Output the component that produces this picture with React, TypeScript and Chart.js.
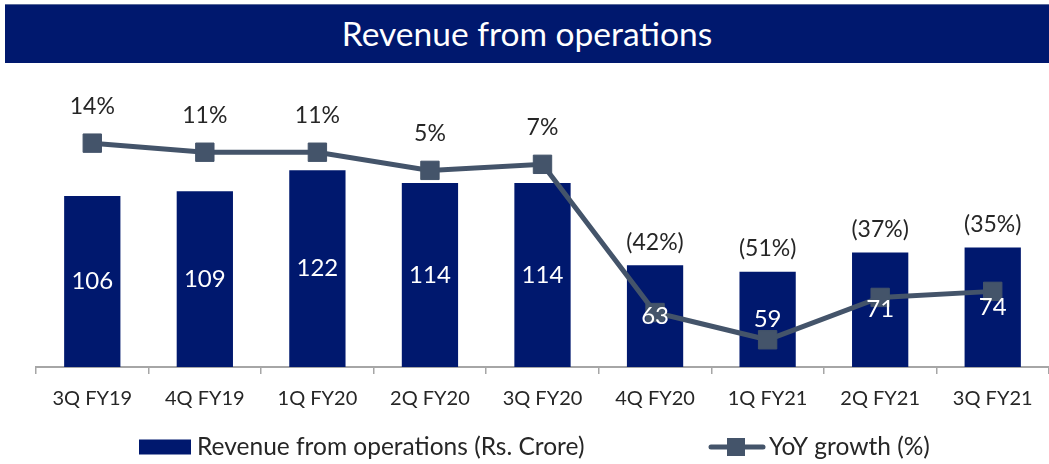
import React, { useEffect, useRef } from "react";
import { Chart, registerables } from "chart.js";

Chart.register(...registerables);

const categories: string[] = [
  "3Q FY19", "4Q FY19", "1Q FY20", "2Q FY20", "3Q FY20",
  "4Q FY20", "1Q FY21", "2Q FY21", "3Q FY21",
];
const revenue: number[] = [106, 109, 122, 114, 114, 63, 59, 71, 74];
const yoyGrowth: number[] = [14, 11, 11, 5, 7, -42, -51, -37, -35];

const TITLE = "Revenue from operations";
const BAR_LABEL = "Revenue from operations (Rs. Crore)";
const LINE_LABEL = "YoY growth (%)";

const BAR_COLOR = "#00186E";
const LINE_COLOR = "#44546A";
const TEXT_COLOR = "#262626";
const AXIS_COLOR = "#A6A6A6";
const FONT = "Lato, 'Noto Sans', sans-serif";

const fmtPct = (v: number) => (v < 0 ? `(${Math.abs(v)}%)` : `${v}%`);

const labelPlugin = {
  id: "valueLabels",
  afterDatasetsDraw(chart: any) {
    const ctx = chart.ctx;
    const barMeta = chart.getDatasetMeta(0);
    const lineMeta = chart.getDatasetMeta(1);
    ctx.save();
    ctx.textAlign = "center";
    ctx.textBaseline = "middle";
    // bar values, centered in bars
    ctx.fillStyle = "#FFFFFF";
    ctx.font = `24px ${FONT}`;
    barMeta.data.forEach((bar: any, i: number) => {
      const y = (bar.y + bar.base) / 2;
      ctx.fillText(String(revenue[i]), bar.x, y);
    });
    // growth labels above marker or bar top
    ctx.fillStyle = TEXT_COLOR;
    ctx.font = `23px ${FONT}`;
    lineMeta.data.forEach((pt: any, i: number) => {
      const bar = barMeta.data[i];
      const y = Math.min(pt.y - 37, bar.y - 23);
      ctx.fillText(fmtPct(yoyGrowth[i]), pt.x, y);
    });
    ctx.restore();
  },
  afterDraw(chart: any) {
    const ctx = chart.ctx;
    const cy = 447;
    ctx.save();
    ctx.textBaseline = "middle";
    ctx.textAlign = "left";
    ctx.font = `24.5px ${FONT}`;
    // bar legend
    ctx.fillStyle = BAR_COLOR;
    ctx.fillRect(139, cy - 7.5, 52, 15);
    ctx.fillStyle = TEXT_COLOR;
    ctx.fillText(BAR_LABEL, 197, cy);
    // line legend
    ctx.strokeStyle = LINE_COLOR;
    ctx.lineWidth = 5;
    ctx.lineCap = "round";
    ctx.beginPath();
    ctx.moveTo(711, cy);
    ctx.lineTo(763, cy);
    ctx.stroke();
    ctx.fillStyle = LINE_COLOR;
    ctx.fillRect(727, cy - 9, 18, 18);
    ctx.fillStyle = TEXT_COLOR;
    ctx.fillText(LINE_LABEL, 769, cy);
    ctx.restore();
  },
};

export default function App() {
  const canvasRef = useRef<HTMLCanvasElement | null>(null);

  useEffect(() => {
    if (!canvasRef.current) return;
    const chart = new Chart(canvasRef.current, {
      type: "bar",
      data: {
        labels: categories,
        datasets: [
          {
            type: "bar",
            label: BAR_LABEL,
            data: revenue,
            backgroundColor: BAR_COLOR,
            borderWidth: 0,
            barPercentage: 0.5,
            categoryPercentage: 1,
            yAxisID: "y",
            order: 2,
          },
          {
            type: "line",
            label: LINE_LABEL,
            data: yoyGrowth,
            borderColor: LINE_COLOR,
            backgroundColor: LINE_COLOR,
            borderWidth: 5,
            pointStyle: "rect",
            pointRadius: 13,
            pointBorderWidth: 1,
            pointBorderColor: LINE_COLOR,
            pointBackgroundColor: LINE_COLOR,
            tension: 0,
            clip: false,
            yAxisID: "y1",
            order: 1,
          } as any,
        ],
      },
      options: {
        responsive: false,
        animation: false,
        devicePixelRatio: 1,
        layout: {
          autoPadding: false,
          padding: { left: 36, right: 0, top: 125, bottom: 0 },
        },
        plugins: {
          legend: { display: false },
          title: { display: false },
          tooltip: { enabled: false },
        },
        scales: {
          x: {
            offset: true,
            grid: {
              offset: true,
              drawOnChartArea: false,
              drawTicks: true,
              tickLength: 7,
              color: AXIS_COLOR,
              lineWidth: 1.5,
            },
            border: { display: true, color: AXIS_COLOR, width: 2 },
            ticks: {
              color: TEXT_COLOR,
              font: { family: FONT, size: 20 },
              padding: 13,
              maxRotation: 0,
              autoSkip: false,
            },
            afterFit: (s: any) => {
              s.height = 97;
              s.paddingLeft = 0;
              s.paddingRight = 0;
            },
          },
          y: { display: false, min: 0, max: 150 },
          y1: { display: false, min: -60, max: 20, position: "right" },
        },
      },
      plugins: [labelPlugin],
    } as any);
    return () => chart.destroy();
  }, []);

  return (
    <div
      style={{
        position: "fixed",
        left: 0,
        top: 0,
        width: 1049,
        height: 464,
        background: "#FFFFFF",
        overflow: "hidden",
      }}
    >
      <canvas
        ref={canvasRef}
        width={1049}
        height={464}
        style={{ position: "absolute", left: 0, top: 0, width: 1049, height: 464 }}
      />
      <div
        style={{
          position: "absolute",
          left: 5,
          top: 4,
          width: 1044,
          height: 59,
          background: BAR_COLOR,
          borderTop: "1px solid #5A6A9A",
          boxSizing: "border-box",
          color: "#FFFFFF",
          fontFamily: FONT,
          fontSize: 33.5,
          display: "flex",
          alignItems: "center",
          justifyContent: "center",
          paddingBottom: 2,
        }}
      >
        {TITLE}
      </div>
    </div>
  );
}
